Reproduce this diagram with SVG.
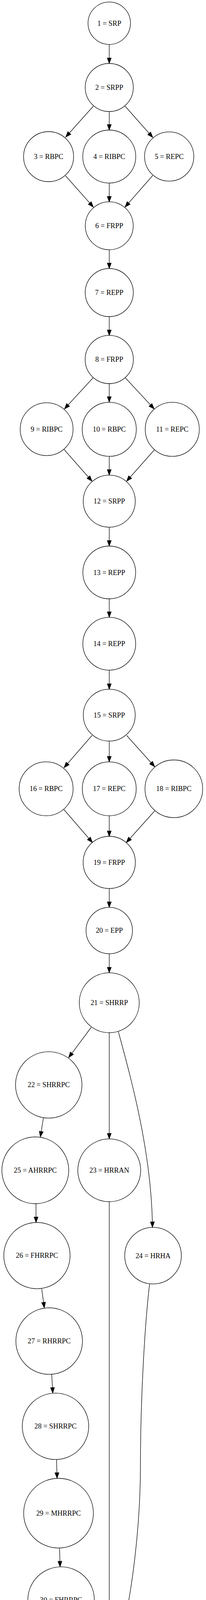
<svg xmlns="http://www.w3.org/2000/svg" width="527" height="4750" viewBox="0 0 527 4750">
<style>
.n circle{fill:#fff;stroke:#000;stroke-width:1.3}
.n text{font-family:"Liberation Serif","Times New Roman",serif;font-size:18.3px;text-anchor:middle;fill:#000}
.e path{fill:none;stroke:#000;stroke-width:1.3;marker-end:url(#ah)}
</style>
<defs>
<marker id="ah" markerUnits="userSpaceOnUse" markerWidth="16" markerHeight="12" viewBox="-1 -1 15 11.4" refX="13" refY="4.7" orient="auto" overflow="visible">
<path d="M0,0 L13,4.7 L0,9.4 Z" fill="#000" stroke="#000" stroke-width="1.3"/>
</marker>
</defs>
<rect width="527" height="4750" fill="#fff"/>
<g id="edges" class="e">
<path d="M279.5,114 L279.5,162.3"/>
<path d="M238.7,271.7 L168.3,350.7"/>
<path d="M279.5,285.7 L279.5,332.7"/>
<path d="M320,271.7 L390.7,351.7"/>
<path d="M167.7,450 L238.7,530"/>
<path d="M279.5,469 L279.5,516.7"/>
<path d="M390.7,449.3 L320,530"/>
<path d="M279.5,639.3 L279.5,687.3"/>
<path d="M279.5,810.7 L279.5,858.7"/>
<path d="M238,967.3 L165,1046.7"/>
<path d="M279.5,982 L279.5,1029.3"/>
<path d="M320.7,967.3 L394.3,1046.7"/>
<path d="M164,1150.7 L235.3,1231.7"/>
<path d="M279.5,1168.7 L279.5,1216"/>
<path d="M395.7,1150.7 L324,1231.7"/>
<path d="M279.5,1350 L279.5,1397.7"/>
<path d="M279.5,1533.3 L279.5,1580"/>
<path d="M279.5,1716 L279.5,1764.3"/>
<path d="M235.3,1882.7 L164,1965"/>
<path d="M279.5,1897.3 L279.5,1950"/>
<path d="M324,1882.7 L395.7,1962.7"/>
<path d="M163.3,2072.3 L236.3,2156.7"/>
<path d="M279.5,2088.7 L279.5,2141"/>
<path d="M395.7,2076 L323.3,2156.7"/>
<path d="M279.5,2274.7 L279.5,2322.7"/>
<path d="M279.5,2441.7 L279.5,2490"/>
<path d="M233.3,2630 L175.7,2707.3"/>
<path d="M279.5,2644 L279.5,2915.3"/>
<path d="M302.7,2640.7 C335,2760 388,2950 390,3141.7"/>
<path d="M111,2862 L103.3,2910.3"/>
<path d="M92,3081.7 L92.3,3129.3"/>
<path d="M106.7,3299.3 L113.3,3347.7"/>
<path d="M132.3,3518.7 L135,3566"/>
<path d="M144.7,3736.7 L146,3784"/>
<path d="M152.3,3963.3 L153.7,4010.7"/>
<path d="M201,4170 L242.3,4238.7"/>
<path d="M279.5,3076.7 L279.5,4229.3"/>
<path d="M382.7,3287.3 C369,3400 359.3,3600 359.3,3750 C359.3,3900 340,4080 301,4231"/>
<path d="M279.5,4372.7 L279.5,4420"/>
<path d="M279.5,4574.7 L279.5,4622.7"/>
</g>
<g id="n1" class="n"><circle cx="279.5" cy="59.5" r="54.3"/><text x="279.5" y="65.5">1 = SRP</text></g>
<g id="n2" class="n"><circle cx="279.5" cy="224" r="61.5"/><text x="279.5" y="230">2 = SRPP</text></g>
<g id="n3" class="n"><circle cx="124.3" cy="401" r="64"/><text x="124.3" y="407">3 = RBPC</text></g>
<g id="n4" class="n"><circle cx="279.5" cy="400.8" r="67.8"/><text x="279.5" y="406.8">4 = RIBPC</text></g>
<g id="n5" class="n"><circle cx="432.8" cy="400.7" r="63"/><text x="432.8" y="406.7">5 = REPC</text></g>
<g id="n6" class="n"><circle cx="279.5" cy="578" r="61.3"/><text x="279.5" y="584">6 = FRPP</text></g>
<g id="n7" class="n"><circle cx="279.5" cy="749" r="61.5"/><text x="279.5" y="755">7 = REPP</text></g>
<g id="n8" class="n"><circle cx="279.5" cy="920.3" r="61.7"/><text x="279.5" y="926.3">8 = FRPP</text></g>
<g id="n9" class="n"><circle cx="119.3" cy="1098.7" r="67.6"/><text x="119.3" y="1104.7">9 = RIBPC</text></g>
<g id="n10" class="n"><circle cx="279.5" cy="1099" r="69.2"/><text x="279.5" y="1105">10 = RBPC</text></g>
<g id="n11" class="n"><circle cx="440.7" cy="1099" r="69.2"/><text x="440.7" y="1105">11 = REPC</text></g>
<g id="n12" class="n"><circle cx="279.5" cy="1283" r="66.6"/><text x="279.5" y="1289">12 = SRPP</text></g>
<g id="n13" class="n"><circle cx="279.5" cy="1465.5" r="67.5"/><text x="279.5" y="1471.5">13 = REPP</text></g>
<g id="n14" class="n"><circle cx="279.5" cy="1648" r="67.6"/><text x="279.5" y="1654">14 = REPP</text></g>
<g id="n15" class="n"><circle cx="279.5" cy="1830.8" r="66.4"/><text x="279.5" y="1836.8">15 = SRPP</text></g>
<g id="n16" class="n"><circle cx="118" cy="2019.3" r="69"/><text x="118" y="2025.3">16 = RBPC</text></g>
<g id="n17" class="n"><circle cx="279.5" cy="2019.3" r="69"/><text x="279.5" y="2025.3">17 = REPC</text></g>
<g id="n18" class="n"><circle cx="444.7" cy="2019.3" r="73.8"/><text x="444.7" y="2025.3">18 = RIBPC</text></g>
<g id="n19" class="n"><circle cx="279.5" cy="2207.8" r="66.8"/><text x="279.5" y="2213.8">19 = FRPP</text></g>
<g id="n20" class="n"><circle cx="279.5" cy="2382.2" r="59.4"/><text x="279.5" y="2388.2">20 = EPP</text></g>
<g id="n21" class="n"><circle cx="279.5" cy="2567" r="76.7"/><text x="279.5" y="2573">21 = SHRRP</text></g>
<g id="n22" class="n"><circle cx="124.7" cy="2777.3" r="85"/><text x="124.7" y="2783.3">22 = SHRRPC</text></g>
<g id="n23" class="n"><circle cx="279.5" cy="2996" r="80.4"/><text x="279.5" y="3002">23 = HRRAN</text></g>
<g id="n24" class="n"><circle cx="391.5" cy="3214.5" r="72.4"/><text x="391.5" y="3220.5">24 = HRHA</text></g>
<g id="n25" class="n"><circle cx="90.3" cy="2996" r="85.5"/><text x="90.3" y="3002">25 = AHRRPC</text></g>
<g id="n26" class="n"><circle cx="94.5" cy="3214.3" r="84.8"/><text x="94.5" y="3220.3">26 = FHRRPC</text></g>
<g id="n27" class="n"><circle cx="125.8" cy="3433.2" r="85.2"/><text x="125.8" y="3439.2">27 = RHRRPC</text></g>
<g id="n28" class="n"><circle cx="142" cy="3651.3" r="85"/><text x="142" y="3657.3">28 = SHRRPC</text></g>
<g id="n29" class="n"><circle cx="149.7" cy="3873.7" r="89.2"/><text x="149.7" y="3879.7">29 = MHRRPC</text></g>
<g id="n30" class="n"><circle cx="156.3" cy="4096.2" r="85.1"/><text x="156.3" y="4102.2">30 = FHRRPC</text></g>
<g id="n31" class="n"><circle cx="279.5" cy="4301" r="71.4"/><text x="279.5" y="4307">31 = HRRR</text></g>
<g id="n32" class="n"><circle cx="279.5" cy="4497.3" r="76.8"/><text x="279.5" y="4503.3">32 = FHRRP</text></g>
<g id="n33" class="n"><circle cx="279.5" cy="4683.8" r="60.8"/><text x="279.5" y="4689.8">33 = FRP</text></g>
</svg>
